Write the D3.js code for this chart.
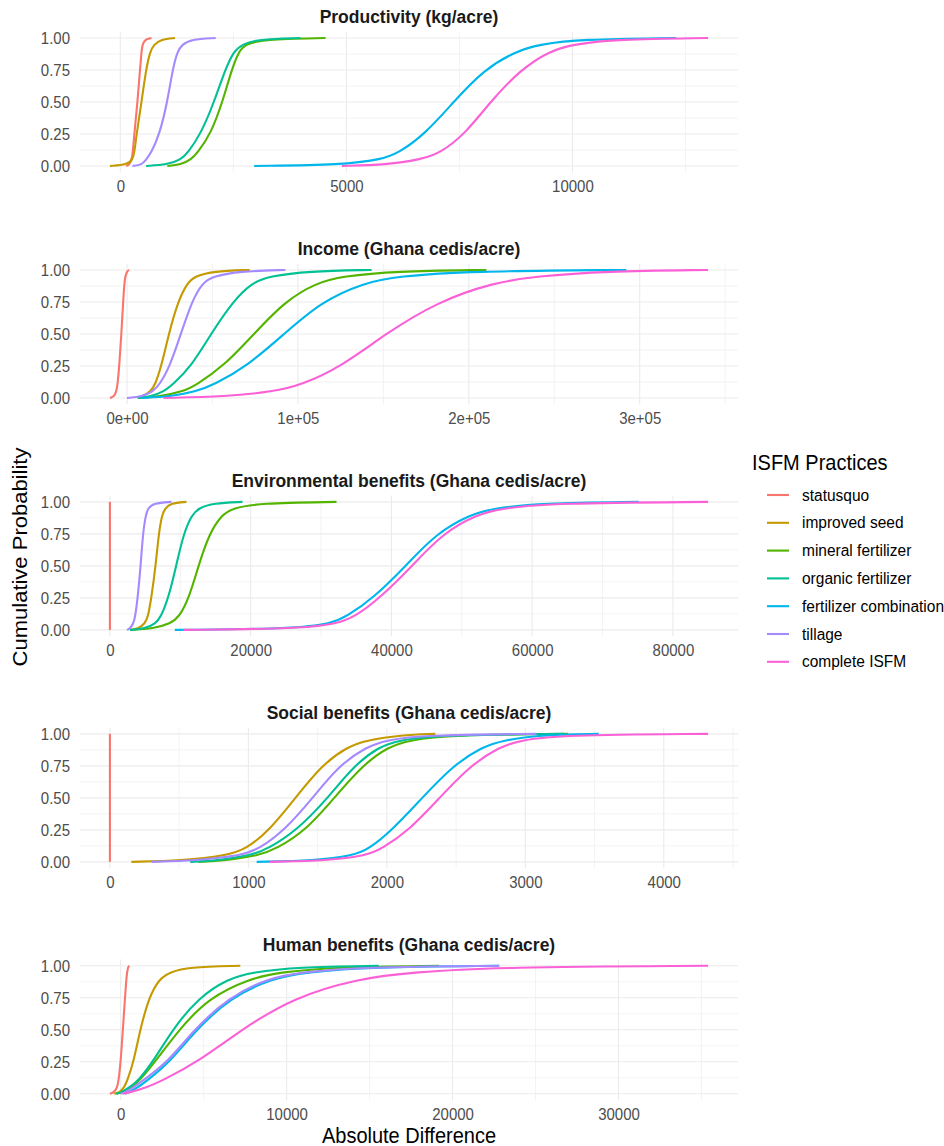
<!DOCTYPE html>
<html>
<head>
<meta charset="utf-8">
<script src="https://cdn.jsdelivr.net/npm/d3@7"></script>
<style>
  body { margin: 0; background: #ffffff; }
  svg text { font-family: "Liberation Sans", Arial, Helvetica, sans-serif; }
</style>
</head>
<body>
<svg id="chart" width="944" height="1146"></svg>
<script>
// ISFM practices, drawn in this order
const practices = ["statusquo", "improved seed", "mineral fertilizer", "organic fertilizer",
                   "fertilizer combination", "tillage", "complete ISFM"];
const practiceColors = ["#F8766D", "#C49A00", "#53B400", "#00C094", "#00B6EB", "#A58AFF", "#FB61D7"];

// cumulative probability levels at which each distribution is described
const probLevels = [0, 0.01, 0.05, 0.1, 0.25, 0.5, 0.75, 0.9, 0.95, 0.99, 1];

// quantiles (absolute difference) per practice, one row per practice
const productivity = [
  [130, 200, 250, 275, 310, 380, 435, 470, 490, 550, 690],
  [-230, 160, 270, 310, 360, 470, 566, 662, 750, 900, 1210],
  [1040, 1340, 1560, 1700, 2000, 2260, 2460, 2625, 2770, 3140, 4540],
  [570, 1040, 1340, 1485, 1780, 2075, 2315, 2515, 2700, 3030, 3985],
  [2960, 4940, 5750, 6150, 6740, 7370, 8030, 8765, 9280, 10160, 12290],
  [270, 480, 570, 680, 870, 1040, 1155, 1265, 1375, 1560, 2110],
  [4900, 5900, 6630, 7070, 7625, 8180, 8840, 9500, 10015, 10970, 13000]
];
const income = [
  [-10000, -7560, -6300, -5540, -4530, -3280, -2270, -1510, -1010, 0, 1260],
  [6300, 8800, 13850, 16400, 20150, 24430, 29700, 35300, 39800, 50400, 71800],
  [6300, 18900, 32750, 40300, 56700, 74300, 91900, 110800, 126000, 156200, 210300],
  [6300, 13850, 21400, 26450, 37800, 49100, 61700, 73050, 83100, 105800, 143100],
  [8800, 25200, 40300, 50400, 70500, 91900, 113400, 138500, 158700, 199000, 292200],
  [0, 8800, 15100, 18900, 25200, 31500, 37800, 44100, 50400, 65500, 92700],
  [21400, 57900, 85600, 102000, 126000, 151100, 181400, 214100, 239300, 279600, 340000]
];
const environmental = [
  [0, 0, 0, 0, 0, 0, 0, 0, 0, 0, 0],
  [2850, 4070, 4980, 5410, 5890, 6500, 6930, 7410, 7840, 8630, 10870],
  [2850, 6200, 8630, 9840, 11240, 12580, 14090, 15920, 17440, 21080, 32200],
  [2850, 4980, 6500, 7230, 8320, 9420, 10450, 11660, 12580, 14700, 18830],
  [9230, 26550, 31410, 33530, 37480, 42040, 46290, 51150, 54490, 61180, 75150],
  [2430, 2850, 3340, 3580, 3950, 4370, 4680, 5100, 5410, 6200, 8750],
  [10450, 27460, 32320, 34750, 38390, 42950, 47200, 52060, 55710, 63000, 85000]
];
const social = [
  [0, 0, 0, 0, 0, 0, 0, 0, 0, 0, 0],
  [155, 520, 845, 985, 1155, 1340, 1525, 1715, 1855, 2100, 2350],
  [640, 830, 1075, 1200, 1420, 1620, 1820, 2010, 2165, 2445, 3310],
  [580, 765, 1015, 1140, 1355, 1575, 1760, 1945, 2085, 2380, 3280],
  [1060, 1480, 1760, 1870, 2040, 2255, 2475, 2690, 2845, 3095, 3530],
  [300, 610, 955, 1075, 1265, 1465, 1650, 1855, 1995, 2255, 3080],
  [1155, 1575, 1855, 1960, 2165, 2380, 2600, 2815, 2970, 3250, 4320]
];
const human = [
  [-650, -390, -210, -130, 0, 130, 260, 340, 390, 440, 520],
  [-390, -50, 210, 390, 780, 1170, 1690, 2330, 2980, 4020, 7210],
  [-260, 50, 650, 1115, 2075, 3500, 5310, 7780, 9590, 12960, 19180],
  [-260, 50, 520, 1040, 1945, 3110, 4670, 6480, 7910, 10630, 15550],
  [260, 470, 1040, 1555, 2980, 4540, 6610, 9070, 11150, 15030, 22810],
  [0, 260, 780, 1300, 2850, 4410, 6480, 8810, 10890, 14520, 22810],
  [130, 520, 1555, 2460, 4670, 7260, 10370, 14300, 17630, 22810, 35400]
];

// facet titles and x tick labels
const panelTitles = ["Productivity (kg/acre)", "Income (Ghana cedis/acre)",
                     "Environmental benefits (Ghana cedis/acre)", "Social benefits (Ghana cedis/acre)",
                     "Human benefits (Ghana cedis/acre)"];
const xTickValues = [
  [0, 5000, 10000],
  [0, 100000, 200000, 300000],
  [0, 20000, 40000, 60000, 80000],
  [0, 1000, 2000, 3000, 4000],
  [0, 10000, 20000, 30000]
];
const xTickLabels = [
  ["0", "5000", "10000"],
  ["0e+00", "1e+05", "2e+05", "3e+05"],
  ["0", "20000", "40000", "60000", "80000"],
  ["0", "1000", "2000", "3000", "4000"],
  ["0", "10000", "20000", "30000"]
];
const yTickValues = [0, 0.25, 0.5, 0.75, 1];
const yTickLabels = ["0.00", "0.25", "0.50", "0.75", "1.00"];

const panelData = [productivity, income, environmental, social, human];

// ---- layout ----
const svg = d3.select("#chart");
const left = 80, right = 738;
const firstTop = 31.6, panelH = 140.8, panelStep = 231.95;
const gridColor = "#EBEBEB";
const textColor = "#4D4D4D";
const stretch = 1.1;          // glyphs are drawn slightly tall
const lineW = 2.1;

panelData.forEach((rows, pi) => {
  const top = firstTop + pi * panelStep;
  const bottom = top + panelH;

  const allVals = rows.flat();
  const lo = d3.min(allVals), hi = d3.max(allVals);
  const pad = (hi - lo) * 0.05;
  const x = d3.scaleLinear().domain([lo - pad, hi + pad]).range([left, right]);
  const y = d3.scaleLinear().domain([-0.05, 1.05]).range([bottom, top]);

  const g = svg.append("g");

  // minor grid: midpoints between major breaks, extended one step each side
  const major = xTickValues[pi];
  const step = major[1] - major[0];
  const inDomain = v => v >= x.domain()[0] && v <= x.domain()[1];
  const xMinor = d3.range(major[0] - step / 2, major[major.length - 1] + step, step).filter(inDomain);
  const yMinor = [0.125, 0.375, 0.625, 0.875];

  g.selectAll(".xminor").data(xMinor).join("line")
    .attr("x1", d => x(d)).attr("x2", d => x(d)).attr("y1", top).attr("y2", bottom)
    .attr("stroke", gridColor).attr("stroke-width", 0.6);
  g.selectAll(".yminor").data(yMinor).join("line")
    .attr("x1", left).attr("x2", right).attr("y1", d => y(d)).attr("y2", d => y(d))
    .attr("stroke", gridColor).attr("stroke-width", 0.6);

  const xMajorAll = major.concat(d3.range(major[major.length - 1] + step, x.domain()[1], step)).filter(inDomain);
  g.selectAll(".xmajor").data(xMajorAll).join("line")
    .attr("x1", d => x(d)).attr("x2", d => x(d)).attr("y1", top).attr("y2", bottom)
    .attr("stroke", gridColor).attr("stroke-width", 1.1);
  g.selectAll(".ymajor").data(yTickValues).join("line")
    .attr("x1", left).attr("x2", right).attr("y1", d => y(d)).attr("y2", d => y(d))
    .attr("stroke", gridColor).attr("stroke-width", 1.1);

  // axes (labels only)
  const xAxis = d3.axisBottom(x).tickValues(major)
    .tickFormat((d, i) => xTickLabels[pi][i]).tickSize(0).tickPadding(7);
  const gx = g.append("g").attr("transform", `translate(0,${bottom})`).call(xAxis);
  gx.select(".domain").remove();
  gx.selectAll("text").attr("fill", textColor).attr("font-size", 15)
    .attr("font-family", "Liberation Sans, Arial, sans-serif")
    .attr("transform", `scale(1,${stretch})`);

  const yAxis = d3.axisLeft(y).tickValues(yTickValues)
    .tickFormat((d, i) => yTickLabels[i]).tickSize(0).tickPadding(10);
  const gy = g.append("g").attr("transform", `translate(${left},0)`).call(yAxis);
  gy.select(".domain").remove();
  gy.selectAll("text").attr("fill", textColor).attr("font-size", 15)
    .attr("font-family", "Liberation Sans, Arial, sans-serif")
    .attr("transform", `scale(1,${stretch})`);

  // facet title
  g.append("text")
    .attr("transform", `translate(${(left + right) / 2},${top - 8.6}) scale(1,${stretch})`)
    .attr("text-anchor", "middle").attr("font-size", 17.5).attr("font-weight", "bold")
    .attr("fill", "#1a1a1a").text(panelTitles[pi]);

  // cumulative distribution curves
  const line = d3.line()
    .x(d => x(d[0])).y(d => y(d[1]))
    .curve(d3.curveBasis);

  rows.forEach((q, si) => {
    const pts = q.map((v, k) => [v, probLevels[k]]);
    g.append("path")
      .attr("d", line(pts))
      .attr("fill", "none")
      .attr("stroke", practiceColors[si])
      .attr("stroke-width", lineW)
      .attr("stroke-linejoin", "round")
      .attr("stroke-linecap", "butt");
  });
});

// axis titles
svg.append("text")
  .attr("transform", `translate(27,557) rotate(-90) scale(${stretch},1)`)
  .attr("text-anchor", "middle").attr("font-size", 20).attr("fill", "#000")
  .text("Cumulative Probability");
svg.append("text")
  .attr("transform", `translate(${(left + right) / 2},1143) scale(1,${stretch})`)
  .attr("text-anchor", "middle").attr("font-size", 20).attr("fill", "#000")
  .text("Absolute Difference");

// legend
const legend = svg.append("g");
legend.append("text")
  .attr("transform", `translate(752,470) scale(1,${stretch})`)
  .attr("font-size", 20).attr("fill", "#000").text("ISFM Practices");
practices.forEach((name, i) => {
  const cy = 495 + i * 27.8;
  legend.append("line")
    .attr("x1", 767).attr("x2", 789).attr("y1", cy).attr("y2", cy)
    .attr("stroke", practiceColors[i]).attr("stroke-width", lineW);
  legend.append("text")
    .attr("transform", `translate(802,${cy + 5.5}) scale(1,${stretch})`)
    .attr("font-size", 15.5).attr("fill", "#000").text(name);
});
</script>
</body>
</html>
